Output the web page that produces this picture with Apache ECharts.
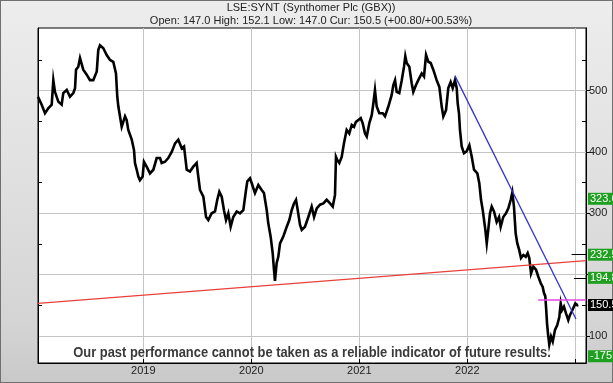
<!DOCTYPE html>
<html>
<head>
<meta charset="utf-8">
<script src="https://cdn.jsdelivr.net/npm/echarts@6/dist/echarts.min.js"></script>
<style>
html,body{margin:0;padding:0;width:613px;height:383px;overflow:hidden;}
#wrap{position:absolute;left:0;top:0;width:613px;height:383px;box-sizing:border-box;border:1px solid #707070;
 background:linear-gradient(180deg,#ededed 0%,#e2e2e2 40%,#d4d4d4 85%,#c9c9c9 100%);}
#chart{position:absolute;left:0;top:0;width:613px;height:383px;}
</style>
</head>
<body>
<div id="wrap"></div>
<div id="chart"></div>
<script>
// ---- data (decimal year, price in GBX) ----
const years = [
2018.025,2018.059,2018.090,2018.120,2018.152,2018.167,2018.182,2018.213,2018.244,2018.259,
2018.291,2018.321,2018.352,2018.368,2018.377,2018.398,2018.414,2018.444,2018.476,2018.506,
2018.537,2018.569,2018.583,2018.599,2018.630,2018.661,2018.692,2018.722,2018.747,2018.759,
2018.769,2018.784,2018.800,2018.831,2018.846,2018.861,2018.893,2018.914,2018.923,2018.939,
2018.954,2018.969,2018.994,2019.006,2019.031,2019.062,2019.093,2019.124,2019.155,2019.170,
2019.201,2019.231,2019.263,2019.294,2019.324,2019.356,2019.377,2019.402,2019.432,2019.463,
2019.494,2019.509,2019.525,2019.556,2019.581,2019.602,2019.633,2019.664,2019.685,2019.704,
2019.726,2019.747,2019.766,2019.787,2019.809,2019.833,2019.865,2019.895,2019.926,2019.951,
2019.963,2019.988,2020.004,2020.034,2020.065,2020.096,2020.117,2020.143,2020.157,2020.179,
2020.198,2020.210,2020.219,2020.235,2020.250,2020.266,2020.296,2020.328,2020.352,2020.374,
2020.395,2020.414,2020.430,2020.451,2020.467,2020.497,2020.528,2020.559,2020.581,2020.606,
2020.636,2020.667,2020.698,2020.729,2020.754,2020.775,2020.784,2020.796,2020.815,2020.837,
2020.858,2020.883,2020.907,2020.930,2020.951,2020.969,2020.991,2021.013,2021.031,2021.053,
2021.069,2021.093,2021.115,2021.130,2021.145,2021.161,2021.185,2021.217,2021.238,2021.269,
2021.300,2021.315,2021.331,2021.346,2021.370,2021.393,2021.414,2021.426,2021.439,2021.463,
2021.485,2021.500,2021.525,2021.546,2021.578,2021.599,2021.618,2021.639,2021.661,2021.685,
2021.716,2021.741,2021.763,2021.778,2021.803,2021.824,2021.846,2021.865,2021.886,2021.902,
2021.911,2021.923,2021.932,2021.948,2021.969,2021.994,2022.019,2022.041,2022.062,2022.093,
2022.111,2022.127,2022.143,2022.155,2022.167,2022.180,2022.194,2022.210,2022.226,2022.247,
2022.272,2022.294,2022.309,2022.333,2022.358,2022.380,2022.402,2022.417,2022.432,2022.448,
2022.463,2022.481,2022.497,2022.519,2022.541,2022.559,2022.574,2022.590,2022.611,2022.636,
2022.657,2022.680,2022.698,2022.710,2022.722,2022.731,2022.738,2022.747,2022.759,2022.775,
2022.791,2022.812,2022.833,2022.852,2022.865,2022.877,2022.895,2022.914,2022.935,2022.950,
2022.967,2022.981,2023.000,2023.019,2023.028
];
const prices = [
490,477,463,471,477,517,498,482,477,496,
501,490,496,504,534,539,553,534,526,517,
517,531,566,574,569,558,550,547,528,490,
474,474,441,458,452,436,420,403,382,371,
360,354,360,384,376,365,371,390,390,382,
384,390,400,414,420,406,409,371,368,376,
382,360,338,327,294,289,300,303,322,335,
327,305,289,300,278,294,303,300,305,338,
352,357,349,333,346,338,333,305,284,262,
235,208,190,219,229,251,262,278,289,305,
316,322,305,281,273,278,294,311,294,308,
314,316,322,316,311,330,392,387,382,392,
414,436,430,444,441,449,452,455,447,430,
425,447,460,479,501,474,463,463,458,474,
493,509,517,498,496,517,539,556,545,539,
512,498,509,517,528,523,558,547,545,534,
517,506,474,458,468,504,514,504,517,504,
479,463,436,409,398,401,411,392,371,365,
349,322,305,289,273,251,273,300,311,303,
286,294,278,294,300,308,322,334,311,267,
251,240,227,232,229,235,227,202,213,208,
197,186,180,170,165,142,121,104,86,99,
91,110,118,131,153,142,148,137,126,134,
140,142,153,150,150.5
];
const yearTicks = [2019, 2020, 2021, 2022, 2023];
const yearLabels = [2019, 2020, 2021, 2022];
const priceTicks = [100, 200, 300, 400, 500];
const priceLabels = [100, 300, 400, 500];
const minorPriceTicks = [150, 250, 350, 450, 550];
// trend lines: [startYear, startPrice, endYear, endPrice]
const redTrend = [2018.025, 153.3, 2023.099, 222.8];
const blueTrend = [2021.886, 524, 2023.006, 127.7];
const pinkLevel = [2022.657, 159.8, 2023.099, 159.8];
const levelTicks = [[2022.966, 232.5], [2022.987, 194.8]];
// right-hand level labels
const levelValues = [323.6, 232.5, 194.8, 150.5, 67];
const levelTexts = ['323.6', '232.5', '194.8', '150.5', '-175.1'];
const levelColors = ['#1f9f1f', '#1f9f1f', '#1f9f1f', '#000000', '#1f9f1f'];

const X_MIN = 2018.025, X_MAX = 2023.099, Y_MIN = 56, Y_MAX = 602;

const chart = echarts.init(document.getElementById('chart'), null, {renderer: 'canvas'});

const seg = (a, color, w) => [
  {coord: [a[0], a[1]], lineStyle: {color: color, width: w, type: 'solid'}},
  {coord: [a[2], a[3]]}
];

const markData = [
  seg(redTrend, '#e8403a', 1.3),
  seg(blueTrend, '#3434c8', 1.3),
  seg(pinkLevel, '#e444e4', 1.5)
];
levelTicks.forEach(t => markData.push(seg([t[0], t[1], X_MAX, t[1]], '#000', 1)));

const pointData = levelValues.map((v, i) => ({
  coord: [X_MAX, v], symbol: 'rect', symbolSize: 0,
  label: {show: true, position: 'right', distance: 2, formatter: levelTexts[i],
    backgroundColor: levelColors[i], color: '#fff', fontSize: 11,
    fontFamily: 'Liberation Sans, Arial, sans-serif', padding: [1, 2, 0, 2], lineHeight: 11}
}));

const baseY = {
  type: 'value', min: Y_MIN, max: Y_MAX,
  axisLine: {show: true, lineStyle: {color: '#000', width: 1}},
  splitLine: {show: false}
};

chart.setOption({
  animation: false,
  backgroundColor: 'transparent',
  grid: {left: 38, top: 28, width: 548, height: 335, show: true, backgroundColor: '#fff',
         borderColor: '#000', borderWidth: 1, containLabel: false, outerBoundsMode: 'none'},
  xAxis: {
    type: 'value', min: X_MIN, max: X_MAX,
    axisLine: {show: true, lineStyle: {color: '#000'}},
    axisTick: {show: true, customValues: yearTicks, inside: true, length: 4, lineStyle: {color: '#000'}},
    axisLabel: {customValues: yearLabels, formatter: v => String(Math.round(v)), color: '#222',
                fontSize: 11, margin: 2, fontFamily: 'Liberation Sans, Arial, sans-serif'},
    splitLine: {show: true, lineStyle: {color: '#c4c4c4', width: 1}}
  },
  yAxis: [
    Object.assign({}, baseY, {
      position: 'right',
      axisTick: {show: true, customValues: priceTicks, inside: false, length: 4, lineStyle: {color: '#000'}},
      axisLabel: {show: true, customValues: priceLabels, formatter: v => String(Math.round(v)),
                  color: '#222', fontSize: 11, margin: 3, fontFamily: 'Liberation Sans, Arial, sans-serif'},
      splitLine: {show: true, lineStyle: {color: '#c4c4c4', width: 1}}
    }),
    Object.assign({}, baseY, {
      position: 'left',
      axisTick: {show: true, customValues: minorPriceTicks, inside: true, length: 4, lineStyle: {color: '#000'}},
      axisLabel: {show: false}
    }),
    Object.assign({}, baseY, {
      position: 'right',
      axisTick: {show: true, customValues: minorPriceTicks, inside: true, length: 4, lineStyle: {color: '#000'}},
      axisLabel: {show: false}
    })
  ],
  series: [{
    type: 'line',
    data: years.map((y, i) => [y, prices[i]]),
    showSymbol: false,
    symbol: 'none',
    lineStyle: {color: '#000', width: 2.6, join: 'miter'},
    clip: false,
    z: 3,
    markLine: {
      silent: true, symbol: ['none', 'none'], animation: false,
      label: {show: false},
      data: markData
    },
    markPoint: {
      silent: true, animation: false,
      data: pointData
    }
  }],
  graphic: [
    {type: 'text', x: 311, y: 8, z: 10, style: {text: 'LSE:SYNT (Synthomer Plc (GBX))', fill: '#222',
      font: '11px "Liberation Sans", Arial, sans-serif', textAlign: 'center', textVerticalAlign: 'middle'}},
    {type: 'text', x: 311, y: 21, z: 10, style: {text: 'Open: 147.0 High: 152.1 Low: 147.0 Cur: 150.5 (+00.80/+00.53%)', fill: '#222',
      font: '11px "Liberation Sans", Arial, sans-serif', textAlign: 'center', textVerticalAlign: 'middle'}},
    {type: 'text', x: 312, y: 353, z: 10, scaleX: 0.86, style: {text: 'Our past performance cannot be taken as a reliable indicator of future results.',
      fill: '#3a3a3a', font: 'bold 15px "Liberation Sans", Arial, sans-serif',
      textAlign: 'center', textVerticalAlign: 'middle'}}
  ]
});
</script>
</body>
</html>
